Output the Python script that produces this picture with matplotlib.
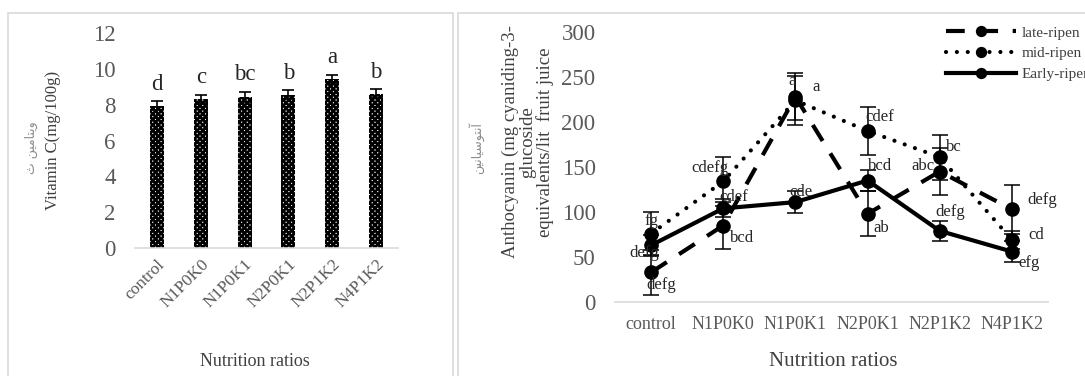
import matplotlib
matplotlib.use("Agg")
import matplotlib.pyplot as plt
from matplotlib.patches import Rectangle

plt.rcParams["font.family"] = ["Liberation Serif", "DejaVu Sans"]
plt.rcParams["hatch.linewidth"] = 1.9

categories = ["control", "N1P0K0", "N1P0K1", "N2P0K1", "N2P1K2", "N4P1K2"]

# vitamin C panel
vitc = [7.94, 8.33, 8.43, 8.56, 9.43, 8.61]
vitc_err = [0.25, 0.23, 0.3, 0.26, 0.24, 0.26]
vitc_letters = ["d", "c", "bc", "b", "a", "b"]

# anthocyanin panel
late = [33, 85, 228, 98, 145, 103]
late_err = [25, 26, 26, 25, 26, 27]
late_letters = ["defg", "bcd", "a", "ab", "abc", "defg"]
mid = [76, 134, 224, 190, 161, 69]
mid_err = [24, 27, 27, 27, 25, 10]
mid_letters = ["fg", "cdefg", "a", "cdef", "bc", "cd"]
early = [63, 104, 111, 135, 79, 56]
early_err = [12, 10, 12, 12, 11, 12]
early_letters = ["defg", "cdef", "cde", "bcd", "defg", "efg"]

# label offsets (px) from each point
late_off = [(10, -13), (19, -12), (-3, 16), (14, -14), (-17, 5), (30, 9)]
mid_off = [(0, 13), (-13, 13), (21, 13), (12, 14), (14, 10), (24, 5)]
early_off = [(-7, -8), (10, 11), (6, 10), (12, 14), (11, 19), (17, -11)]

W, H = 1085, 376
fig = plt.figure(figsize=(W / 100, H / 100), dpi=100)

grid_c = "#d9d9d9"
tick_c = "#595959"

# panel frames
for x0, x1 in [(8, 453), (458, 1100)]:
    fig.patches.append(Rectangle((x0 / W, -0.05), (x1 - x0) / W, (H - 13) / H + 0.05,
                                 transform=fig.transFigure, fill=False,
                                 edgecolor=grid_c, lw=1.2))


def style_axis(ax):
    for s in ["left", "right", "top"]:
        ax.spines[s].set_visible(False)
    ax.spines["bottom"].set_color(grid_c)
    ax.spines["bottom"].set_linewidth(1.2)
    ax.tick_params(length=0, colors=tick_c)


# ---- left: vitamin C bars
ax1 = fig.add_axes([135 / W, (H - 248) / H, (398 - 135) / W, 215 / H])
xs = list(range(len(categories)))
ax1.bar(xs, vitc, width=0.32, facecolor="white", edgecolor="black", hatch="xxxxxx", lw=0)
ax1.errorbar(xs, vitc, yerr=vitc_err, fmt="none", ecolor="black", elinewidth=1.2,
             capsize=4.5, capthick=1.2)
for x, v, e, t in zip(xs, vitc, vitc_err, vitc_letters):
    ax1.text(x, v + e + 0.35, t, ha="center", va="bottom", fontsize=16.5, color="#262626")
ax1.set_xlim(-0.5, 5.5)
ax1.set_ylim(0, 12)
ax1.set_yticks(range(0, 13, 2))
ax1.set_xticks(xs)
ax1.set_xticklabels(categories, rotation=45, ha="right", rotation_mode="anchor")
style_axis(ax1)
ax1.tick_params(axis="y", labelsize=16.5, pad=14)
ax1.tick_params(axis="x", labelsize=12.5, pad=6)
fig.text(53 / W, 1 - 140 / H, "Vitamin C(mg/100g)", rotation=90, ha="center", va="center",
         fontsize=12, color="#404040")
fig.text(31 / W, 1 - 148 / H, "\ufe99 \ufee6\ufbff\ufee3\ufe8e\ufe98\ufbfe\ufeed",
         rotation=90, ha="center", va="center", fontsize=9, color="#8c8c8c",
         family=["DejaVu Sans"])
fig.text(255 / W, 1 - 362 / H, "Nutrition ratios", ha="center", va="center",
         fontsize=13, color="#404040")

# ---- right: anthocyanin lines
ax2 = fig.add_axes([615 / W, (H - 302) / H, (1048 - 615) / W, 270 / H])
series = [
    ("late-ripen", late, late_err, late_letters, late_off, dict(ls=(0, (4.5, 3.5)))),
    ("mid-ripen", mid, mid_err, mid_letters, mid_off, dict(ls=(0, (0.01, 2.6)), dash_capstyle="round")),
    ("Early-ripen", early, early_err, early_letters, early_off, dict(ls="-")),
]
for name, vals, errs, letters, offs, kw in series:
    ax2.plot(xs, vals, color="black", lw=3, marker="o", ms=9.5, label=name, **kw)
    ax2.errorbar(xs, vals, yerr=errs, fmt="none", ecolor="black", elinewidth=1.1,
                 capsize=5.5, capthick=1.1)
    for x, v, t, (dx, dy) in zip(xs, vals, letters, offs):
        ax2.annotate(t, (x, v), xytext=(dx * 0.72, dy * 0.72), textcoords="offset points",
                     ha="center", va="center", fontsize=12, color="#262626")
ax2.set_xlim(-0.5, 5.5)
ax2.set_ylim(0, 300)
ax2.set_yticks(range(0, 301, 50))
ax2.set_xticks(xs)
ax2.set_xticklabels(categories)
style_axis(ax2)
ax2.tick_params(axis="y", labelsize=16.5, pad=14)
ax2.tick_params(axis="x", labelsize=13, pad=10)
ax2.legend(loc="upper left", bbox_to_anchor=(940 / W, 1 - 20 / H), bbox_transform=fig.transFigure,
           frameon=False, fontsize=11, handlelength=4.6, labelspacing=0.45, handletextpad=0.35,
           borderaxespad=0, labelcolor="#404040", markerscale=0.75)
fig.text(528 / W, 1 - 142 / H,
         "Anthocyanin (mg cyaniding-3-\nglucoside\nequivalents/lit  fruit juice",
         rotation=90, ha="center", va="center", fontsize=13.5, color="#404040",
         multialignment="center", linespacing=1.0)
fig.text(476 / W, 1 - 148 / H, "\ufee6\ufbff\ufee7\ufe8e\ufbff\ufeb3\ufeee\ufe98\ufee7\ufe81",
         rotation=90, ha="center", va="center", fontsize=9, color="#8c8c8c",
         family=["DejaVu Sans"])
fig.text(833 / W, 1 - 362 / H, "Nutrition ratios", ha="center", va="center",
         fontsize=15, color="#404040")

fig.savefig("out.png", dpi=100)
